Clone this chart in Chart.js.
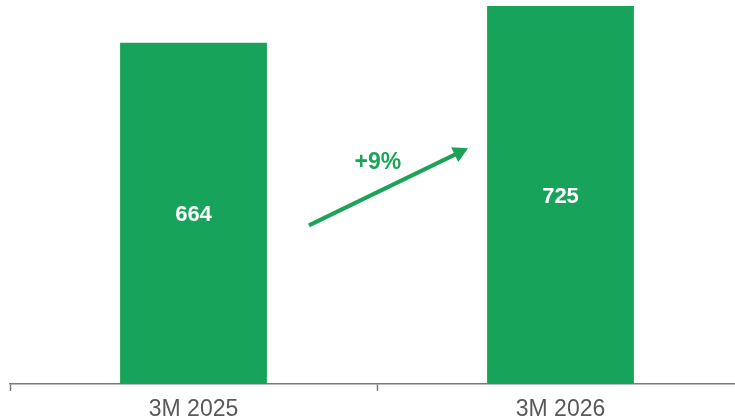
<!DOCTYPE html>
<html>
<head>
<meta charset="utf-8">
<script src="https://cdn.jsdelivr.net/npm/chart.js@4.4.1/dist/chart.umd.min.js"></script>
<style>
  html, body { margin: 0; padding: 0; background: #fff; overflow: hidden; }
  #wrap { position: relative; width: 744px; height: 428px; }
</style>
</head>
<body>
<div id="wrap"><canvas id="chartPeriods"></canvas></div>
<script>
// ── data ──
const PERIODS = ['3M 2025', '3M 2026'];
const VALUES = [664, 725];

const GREEN = '#17A35A';
const ARROW_GREEN = '#1BA458';
const AXIS_GREY = '#7A7A7A';
const LABEL_GREY = '#595959';

// middle of the visible part of a bar
const barMid = (bar, chart) => (bar.y + chart.chartArea.bottom + 2) / 2;

// value written inside each bar
const barValueLabels = {
  id: 'barValueLabels',
  afterDatasetsDraw(chart) {
    const { ctx } = chart;
    const meta = chart.getDatasetMeta(0);
    ctx.save();
    ctx.fillStyle = '#FFFFFF';
    ctx.font = "bold 22px 'Liberation Sans', Arial, sans-serif";
    ctx.textAlign = 'center';
    ctx.textBaseline = 'middle';
    meta.data.forEach((bar, i) => {
      ctx.fillText(String(VALUES[i]), bar.x, barMid(bar, chart) + 1);
    });
    ctx.restore();
  }
};

// growth arrow between the two bars
const growthArrow = {
  id: 'growthArrow',
  afterDatasetsDraw(chart) {
    const { ctx } = chart;
    const meta = chart.getDatasetMeta(0);
    const a = meta.data[0], b = meta.data[1];
    const x0 = a.x + a.width / 2 + 42;
    const y0 = barMid(a, chart) + 11;
    const x1 = b.x - b.width / 2 - 19;
    const y1 = y0 - (x1 - x0) * 0.485;
    const ang = Math.atan2(y1 - y0, x1 - x0);
    const head = 17;

    ctx.save();
    ctx.strokeStyle = ARROW_GREEN;
    ctx.fillStyle = ARROW_GREEN;
    ctx.lineWidth = 4;
    ctx.beginPath();
    ctx.moveTo(x0, y0);
    ctx.lineTo(x1 - Math.cos(ang) * head * 0.8, y1 - Math.sin(ang) * head * 0.8);
    ctx.stroke();

    ctx.beginPath();
    ctx.moveTo(x1, y1);
    ctx.lineTo(x1 - head * Math.cos(ang - 0.5), y1 - head * Math.sin(ang - 0.5));
    ctx.lineTo(x1 - head * Math.cos(ang + 0.5), y1 - head * Math.sin(ang + 0.5));
    ctx.closePath();
    ctx.fill();

    const pct = Math.round((VALUES[1] / VALUES[0] - 1) * 100);
    ctx.font = "bold 23px 'Liberation Sans', Arial, sans-serif";
    ctx.textAlign = 'center';
    ctx.textBaseline = 'middle';
    ctx.fillText('+' + pct + '%', x0 + 69, y0 - 63);
    ctx.restore();
  }
};

new Chart(document.getElementById('chartPeriods'), {
  type: 'bar',
  data: {
    labels: PERIODS,
    datasets: [{
      data: VALUES,
      backgroundColor: GREEN,
      borderWidth: 0,
      barPercentage: 0.4,
      categoryPercentage: 1.0,
    }],
  },
  options: {
    responsive: true,
    maintainAspectRatio: false,
    animation: false,
    layout: { padding: { left: 10, right: 0, top: 0, bottom: 0 } },
    plugins: {
      legend: { display: false },
      tooltip: { enabled: false },
    },
    scales: {
      x: {
        offset: true,
        grid: {
          offset: true,
          drawOnChartArea: false,
          drawTicks: true,
          tickLength: 7,
          tickWidth: 1.5,
          tickColor: AXIS_GREY,
        },
        border: { color: AXIS_GREY, width: 1.5 },
        ticks: {
          color: LABEL_GREY,
          padding: 7,
          font: { family: "'Liberation Sans', Arial, sans-serif", size: 23, lineHeight: 1 },
          maxRotation: 0,
        },
      },
      y: {
        display: false,
        min: 98,
        max: 735,
      },
    },
  },
  plugins: [barValueLabels, growthArrow],
});
</script>
</body>
</html>
